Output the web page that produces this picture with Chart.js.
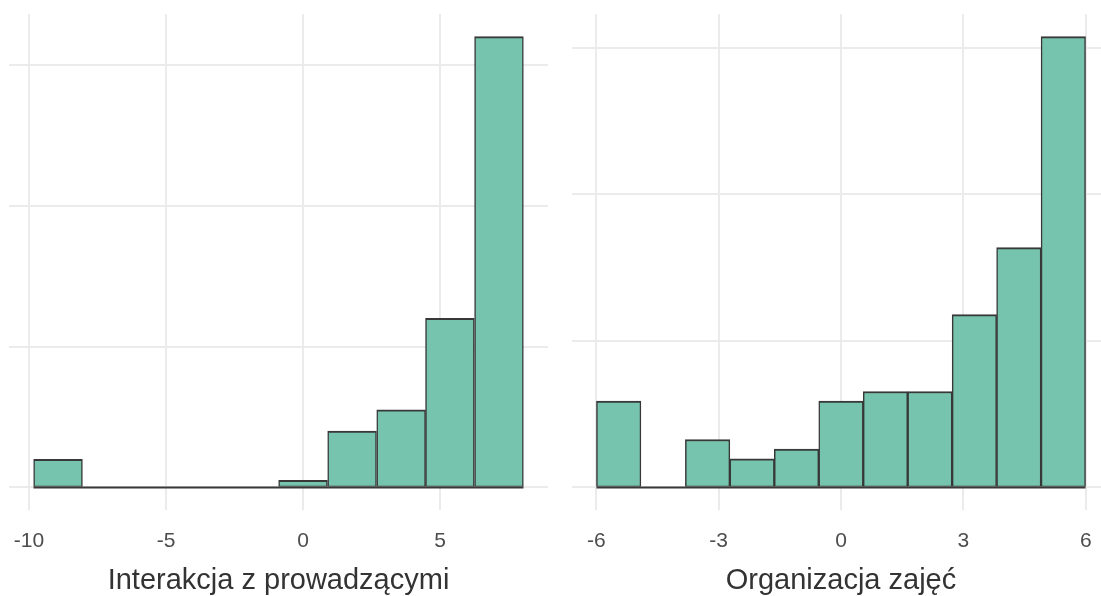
<!DOCTYPE html>
<html lang="pl">
<head>
<meta charset="UTF-8">
<title>Histogramy</title>
<script src="https://cdn.jsdelivr.net/npm/chart.js"></script>
<style>
    html, body { margin: 0; padding: 0; background: #fff; overflow: hidden; width: 1101px; height: 596px; }
    .panel { position: absolute; top: 0; width: 560px; height: 596px; }
    #leftWrap { left: 0; }
    #rightWrap { left: 560px; }
</style>
</head>
<body>
<div class="panel" id="leftWrap"><canvas id="leftChart" width="560" height="596"></canvas></div>
<div class="panel" id="rightWrap"><canvas id="rightChart" width="560" height="596"></canvas></div>

<script>
    // Interakcja z prowadzącymi: bin centres and density
    const leftCenters = [-8.94, -7.15, -5.36, -3.58, -1.79, 0, 1.79, 3.58, 5.36, 7.15];
    const leftDensity = [0.020, 0, 0, 0, 0, 0.005, 0.040, 0.055, 0.120, 0.320];
    const leftTicks = [-10, -5, 0, 5];

    // Organizacja zajęć
    const rightCenters = [-5.45, -4.36, -3.27, -2.18, -1.09, 0, 1.09, 2.18, 3.27, 4.36, 5.45];
    const rightDensity = [0.0589, 0, 0.0327, 0.0196, 0.0262, 0.0589, 0.0655, 0.0655, 0.1179, 0.1637, 0.3077];
    const rightTicks = [-6, -3, 0, 3, 6];

    const yGridTicks = [0, 0.1, 0.2, 0.3];

    const fillColor = '#76c4ae';
    const edgeColor = '#383838';
    const gridColor = '#ebebeb';
    const fontFamily = '"Liberation Sans", Arial, sans-serif';

    function makeHistogram(canvasId, centers, density, ticks, title, pad) {
        const width = centers[1] - centers[0];
        const lo = centers[0] - width / 2;
        const hi = centers[centers.length - 1] + width / 2;
        const xExp = (hi - lo) * 0.05;
        const yMax = Math.max(...density);

        return new Chart(document.getElementById(canvasId), {
            type: 'bar',
            data: {
                datasets: [{
                    type: 'line',
                    data: [{ x: lo, y: 0 }, { x: hi, y: 0 }],
                    borderColor: edgeColor,
                    borderWidth: 2,
                    pointRadius: 0,
                    order: 0
                }, {
                    data: centers.map((c, i) => ({ x: c, y: density[i] })),
                    backgroundColor: fillColor,
                    borderColor: edgeColor,
                    borderWidth: { top: 2, bottom: 1, left: 1.5, right: 1.5 },
                    borderSkipped: false,
                    barPercentage: 1,
                    categoryPercentage: 1,
                    order: 1
                }]
            },
            options: {
                responsive: false,
                animation: false,
                layout: { padding: { left: pad.left, right: pad.right, top: 14, bottom: 0 } },
                plugins: { legend: { display: false }, tooltip: { enabled: false } },
                scales: {
                    x: {
                        type: 'linear',
                        offset: false,
                        min: lo - xExp,
                        max: hi + xExp,
                        afterBuildTicks: s => { s.ticks = ticks.map(v => ({ value: v })); },
                        afterFit: s => { s.height = 86; s.paddingLeft = 0; s.paddingRight = 0; },
                        grid: { color: gridColor, lineWidth: 2, drawTicks: false, offset: false },
                        border: { display: false },
                        ticks: {
                            padding: 19,
                            color: '#4d4d4d',
                            font: { family: fontFamily, size: 21 },
                            callback: v => String(v)
                        },
                        title: {
                            display: true,
                            text: title,
                            color: '#333',
                            font: { family: fontFamily, size: 29 },
                            padding: { top: 0, bottom: -2 }
                        }
                    },
                    y: {
                        min: -0.05 * yMax,
                        max: 1.05 * yMax,
                        afterBuildTicks: s => { s.ticks = yGridTicks.map(v => ({ value: v })); },
                        afterFit: s => { s.width = 0; },
                        grid: { color: gridColor, lineWidth: 2, drawTicks: false },
                        border: { display: false },
                        ticks: { display: false }
                    }
                }
            }
        });
    }

    makeHistogram('leftChart', leftCenters, leftDensity, leftTicks, 'Interakcja z prowadzącymi', { left: 9, right: 12 });
    makeHistogram('rightChart', rightCenters, rightDensity, rightTicks, 'Organizacja zajęć', { left: 12, right: 10 });
</script>
</body>
</html>
